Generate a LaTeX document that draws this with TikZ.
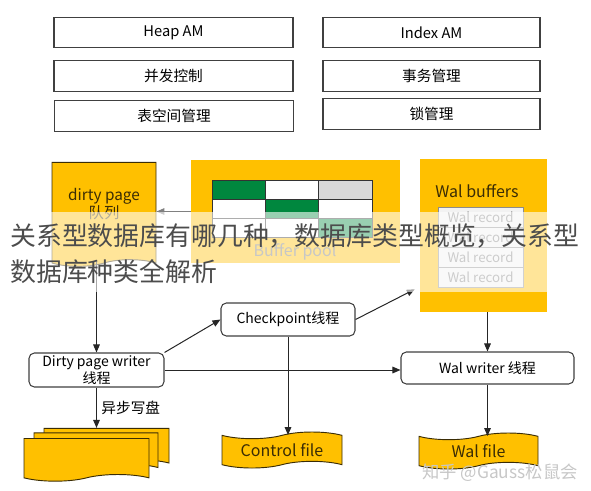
\documentclass[tikz,border=0pt]{standalone}
\usepackage{fontspec}
\setmainfont{Noto Sans CJK SC}
\usetikzlibrary{arrows.meta,shapes.symbols,calc}

\definecolor{amber}{HTML}{FFC000}
\definecolor{cellgreen}{HTML}{00873E}
\definecolor{cellgray}{HTML}{D9D9D9}
\definecolor{inkbrown}{HTML}{3A2C05}
\definecolor{boxline}{HTML}{404040}

\tikzset{
  layer/.style={rectangle, draw=boxline, line width=0.8pt, minimum width=179.25pt, minimum height=23pt, inner sep=0pt, font=\fontsize{11pt}{12pt}\selectfont},
  thread/.style={rectangle, rounded corners=4pt, draw=boxline, line width=0.8pt, fill=white, inner sep=0pt, align=center, font=\fontsize{10.5pt}{12.5pt}\selectfont},
  file/.style={tape, draw=inkbrown, line width=0.7pt, fill=amber, inner sep=0pt, align=center, text=inkbrown, font=\fontsize{12pt}{14pt}\selectfont},
  pool/.style={rectangle, fill=amber, inner sep=0pt},
  record/.style={rectangle, draw=black!45, fill=black!5, minimum width=63.75pt, minimum height=15pt, inner sep=0pt, text=black!50, font=\fontsize{10pt}{12pt}\selectfont},
  flow/.style={-{Triangle[length=6pt,width=5pt]}, line width=0.75pt, draw=black!85}
}

\begin{document}
\begin{tikzpicture}[x=0.75pt, y=-0.75pt]
\useasboundingbox (0,0) rectangle (591,490);

% access methods and managers
\node[layer] (heap) at (173.5,32.5) {Heap AM};
\node[layer] (concur) at (173.5,76) {并发控制};
\node[layer] (tblspace) at (174,116) {表空间管理};
\node[layer, minimum width=162.75pt] (index) at (431.5,32.5) {Index AM};
\node[layer, minimum width=162.75pt] (txn) at (431.5,76) {事务管理};
\node[layer, minimum width=162.75pt] (lock) at (431.5,114) {锁管理};

% dirty page queue
\node[file, tape bend top=none, minimum width=78pt, minimum height=78pt, font=\fontsize{11.5pt}{12pt}\selectfont] (queue) at (104,211) {dirty page\\队列\\~};

% buffer pool
\node[pool, minimum width=156.75pt, minimum height=77.25pt] (bufpool) at (295.5,211.5) {};
\foreach \col/\row/\clr in {0/0/cellgreen, 1/0/white, 2/0/cellgray,
                            0/1/white, 1/1/cellgreen, 2/1/white,
                            0/2/white, 1/2/white, 2/2/cellgreen}
  \filldraw[fill=\clr, draw=black!80, line width=0.6pt] (212+53.33*\col,180+19*\row) rectangle ++(53.33,19);
\node[text=black!55, font=\fontsize{12pt}{14pt}\selectfont] (poolname) at (295,252) {Buffer pool};

% wal buffers
\node[pool, minimum width=95.25pt, minimum height=114.75pt] (walbuf) at (483.5,235.5) {};
\node[text=inkbrown, font=\fontsize{12pt}{14pt}\selectfont] (walbufname) at (477,191) {Wal buffers};
\foreach \y [count=\i] in {217,237,257,277}
  \node[record] (rec\i) at (480.5,\y) {Wal record};

% threads
\node[thread, minimum width=101.25pt, minimum height=25.5pt] (dwriter) at (96.5,370) {Dirty page writer\\线程};
\node[thread, minimum width=100.5pt, minimum height=24.75pt] (ckpt) at (288,319.5) {Checkpoint线程};
\node[thread, minimum width=129.75pt, minimum height=24pt] (walwriter) at (487.5,368) {Wal writer 线程};

% files on disk
\node[file, tape bend top=none, minimum width=93.75pt, minimum height=28.5pt] (page3) at (106.5,444) {};
\node[file, tape bend top=none, minimum width=93pt, minimum height=28.5pt] (page2) at (96,448.5) {};
\node[file, tape bend top=none, minimum width=93.75pt, minimum height=32pt] (page1) at (86.5,456.5) {};
\node[file, minimum width=90pt, minimum height=27pt] (ctrl) at (282,450) {Control file};
\node[file, minimum width=89.25pt, minimum height=27pt] (walfile) at (478.5,451) {Wal file};

% connections
\draw[flow, draw=black!50] (bufpool.west) -- (bufpool.west -| queue.east);
\draw[flow] (dwriter.north |- queue.south) -- (dwriter.north);
\draw[flow] (dwriter.north east) -- (ckpt.west);
\draw[flow] (ckpt.east) -- ($(walbuf.south west)+(-5,-23)$);
\draw[flow] (dwriter.east) -- (dwriter.east -| walwriter.west);
\draw[flow] (walbuf.south -| walwriter.north) -- (walwriter.north);
\draw[flow] (walwriter.south) -- (walwriter.south |- walfile.north);
\draw[flow] (ckpt.south) -- (ckpt.south |- ctrl.north);
\draw[flow] (dwriter.south) -- node[right, font=\fontsize{11pt}{13pt}\selectfont] (async) {异步写盘} (dwriter.south |- page3.north);

% title overlay
\fill[white, fill opacity=0.6] (0,212) rectangle (591,292);
\node[anchor=west, align=left, inner sep=0pt, text=black!70, font=\fontsize{19.4pt}{27pt}\selectfont] (headline) at (10,254) {关系型数据库有哪几种，数据库类型概览，关系型\\数据库种类全解析};
\node[text=black!22, font=\fontsize{13pt}{15pt}\selectfont] (mark) at (500,473) {知乎 @Gauss松鼠会};
\end{tikzpicture}
\end{document}
